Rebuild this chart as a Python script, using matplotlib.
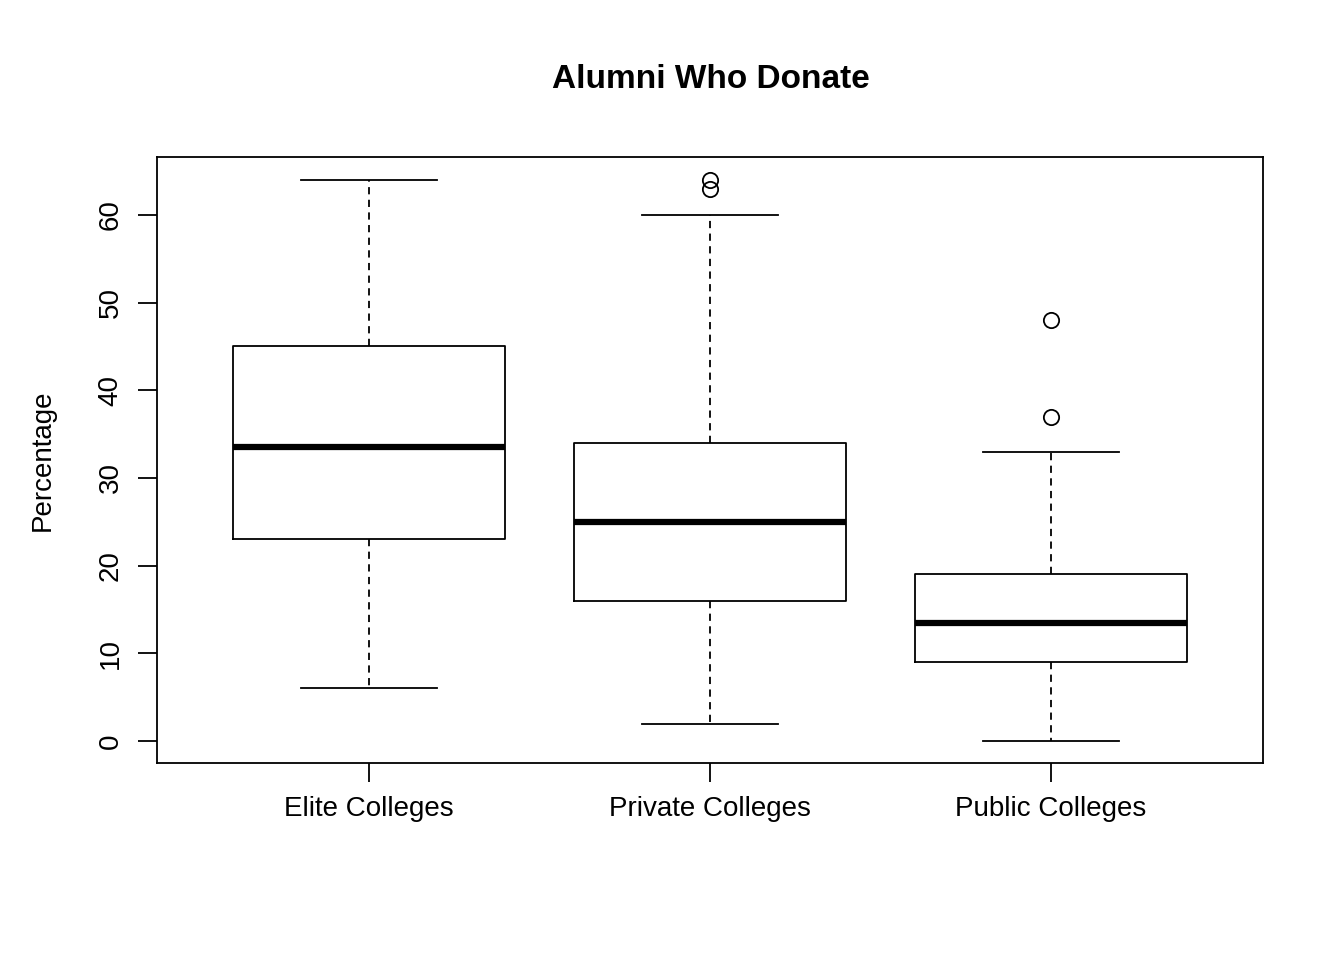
import matplotlib
matplotlib.use("Agg")
import matplotlib.pyplot as plt

plt.rcParams['font.family'] = ['Liberation Sans', 'DejaVu Sans']

groups = ['Elite Colleges', 'Private Colleges', 'Public Colleges']
whislo = [6, 2, 0]
q1 = [23, 16, 9]
med = [33.5, 25, 13.5]
q3 = [45, 34, 19]
whishi = [64, 60, 33]
fliers = [[], [63, 64], [37, 48]]

stats = []
for i in range(3):
    stats.append(dict(label=groups[i], whislo=whislo[i], q1=q1[i], med=med[i],
                      q3=q3[i], whishi=whishi[i], fliers=fliers[i]))

fig = plt.figure(figsize=(13.44, 9.6), dpi=100)
ax = fig.add_axes([0.1168, 0.2052, 0.8229, 0.6313])
ax.bxp(stats, widths=0.8,
       boxprops=dict(color='black', linewidth=1.3),
       medianprops=dict(color='black', linewidth=4.5, solid_capstyle='butt'),
       whiskerprops=dict(color='black', linewidth=1.3, linestyle=(0, (4, 3))),
       capprops=dict(color='black', linewidth=1.3),
       capwidths=0.4,
       flierprops=dict(marker='o', markerfacecolor='none', markeredgecolor='black',
                       markersize=11, markeredgewidth=1.3))

ax.set_xlim(0.378, 3.622)
ax.set_ylim(-2.5, 66.6)
ax.set_yticks([0, 10, 20, 30, 40, 50, 60])
ax.set_yticklabels(['0', '10', '20', '30', '40', '50', '60'], rotation=90, va='center')
ax.tick_params(labelsize=20, length=14, width=1.3, pad=10)
for s in ax.spines.values():
    s.set_linewidth(1.3)
ax.set_ylabel('Percentage', fontsize=20, labelpad=30)
fig.text(0.529, 0.917, 'Alumni Who Donate', ha='center', va='center',
         fontsize=24, fontweight='bold')

fig.savefig('out.png', dpi=100)
